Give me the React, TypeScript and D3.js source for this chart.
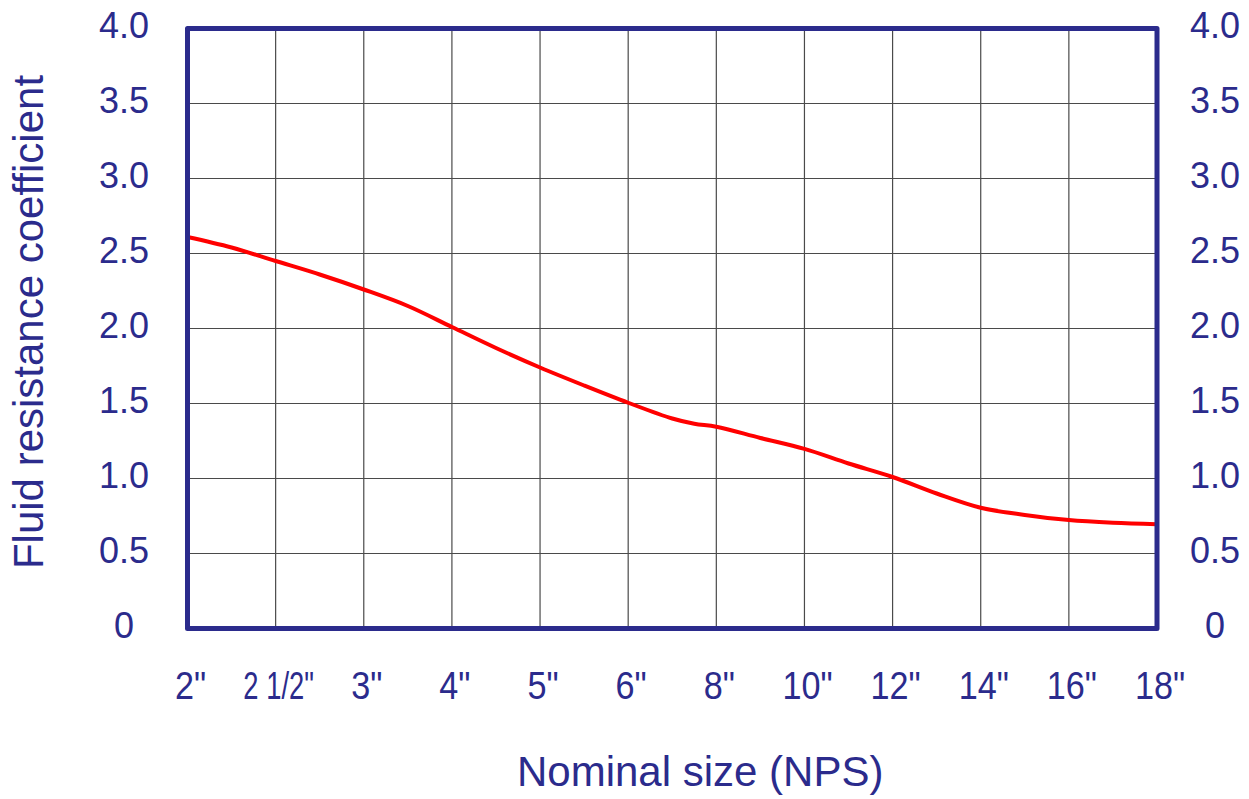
import * as d3 from "d3";
import { useEffect, useRef } from "react";

// nominal sizes on the x axis
const sizes = ['2"', '2 1/2"', '3"', '4"', '5"', '6"', '8"', '10"', '12"', '14"', '16"', '18"'];
// curve read at category positions (0 = 2", 11 = 18")
const curvePos = [0, 0.5, 1, 1.5, 2, 2.5, 3, 3.5, 4, 4.5, 5, 5.5, 5.75, 6, 6.5, 7, 7.5, 8, 8.5, 9, 9.5, 10, 10.5, 11];
const curveVal = [2.61, 2.54, 2.45, 2.36, 2.26, 2.15, 2.01, 1.87, 1.74, 1.62, 1.505, 1.4, 1.365, 1.345, 1.27, 1.197, 1.1, 1.01, 0.9, 0.805, 0.757, 0.723, 0.705, 0.695];
const yTicks = [0, 0.5, 1, 1.5, 2, 2.5, 3, 3.5, 4];

const navy = "#2b2b8c";

export default function App() {
    const ref = useRef<SVGSVGElement>(null);

    const W = 1249, H = 799;
    const plot = { left: 187.5, right: 1157, top: 28.5, bottom: 628.5 };

    const x = d3.scaleLinear([0, sizes.length - 1], [plot.left, plot.right]);
    const y = d3.scaleLinear([0, 4], [plot.bottom, plot.top]);

    useEffect(() => {
        const svg = d3.select(ref.current);
        svg.selectAll("*").remove();

        // grid
        const grid = svg.append("g").attr("stroke", "#4a4a4a").attr("stroke-width", 1.2);
        grid.selectAll("line.v")
            .data(d3.range(1, sizes.length - 1))
            .join("line")
            .attr("x1", d => x(d)).attr("x2", d => x(d))
            .attr("y1", plot.top).attr("y2", plot.bottom);
        grid.selectAll("line.h")
            .data(yTicks.slice(1, -1))
            .join("line")
            .attr("x1", plot.left).attr("x2", plot.right)
            .attr("y1", d => y(d)).attr("y2", d => y(d));

        // curve
        const pts = curvePos.map((p, i) => [p, curveVal[i]] as [number, number]);
        svg.append("path")
            .datum(pts)
            .attr("fill", "none")
            .attr("stroke", "#ff0000")
            .attr("stroke-width", 4)
            .attr("d", d3.line<[number, number]>()
                .x(d => x(d[0]))
                .y(d => y(d[1]))
                .curve(d3.curveCatmullRom.alpha(0.5)));

        // frame
        svg.append("rect")
            .attr("x", plot.left).attr("y", plot.top)
            .attr("width", plot.right - plot.left)
            .attr("height", plot.bottom - plot.top)
            .attr("fill", "none")
            .attr("stroke", navy)
            .attr("stroke-width", 5)
            .attr("stroke-linejoin", "round");

        // y tick labels, both sides
        const fmt = (v: number) => v === 0 ? "0" : d3.format(".1f")(v);
        [124, 1215].forEach(cx => {
            svg.append("g")
                .selectAll("text")
                .data(yTicks)
                .join("text")
                .attr("x", cx)
                .attr("y", d => y(d) + 9)
                .attr("text-anchor", "middle")
                .attr("font-family", "'Liberation Sans', Arial, sans-serif")
                .attr("font-size", 36)
                .attr("fill", navy)
                .text(fmt);
        });

        // x tick labels
        svg.append("g")
            .selectAll("text")
            .data(sizes)
            .join("text")
            .attr("transform", (d, i) => `translate(${x(i) + 3},699) scale(${d.length > 4 ? 0.72 : 0.9},1)`)
            .attr("text-anchor", "middle")
            .attr("font-family", "'Liberation Sans', Arial, sans-serif")
            .attr("font-size", 38)
            .attr("fill", navy)
            .text(d => d);

        // axis titles
        svg.append("text")
            .attr("x", 517).attr("y", 786)
            .attr("font-family", "'Liberation Sans', Arial, sans-serif")
            .attr("font-size", 42)
            .attr("fill", navy)
            .text("Nominal size (NPS)");

        svg.append("text")
            .attr("transform", "translate(43,322) rotate(-90)")
            .attr("text-anchor", "middle")
            .attr("font-family", "'Liberation Sans', Arial, sans-serif")
            .attr("font-size", 42)
            .attr("fill", navy)
            .text("Fluid resistance coefficient");
    }, []);

    return (
        <svg ref={ref} width={W} height={H} viewBox={`0 0 ${W} ${H}`}
            style={{ position: "absolute", left: 0, top: 0, background: "#fff" }} />
    );
}
